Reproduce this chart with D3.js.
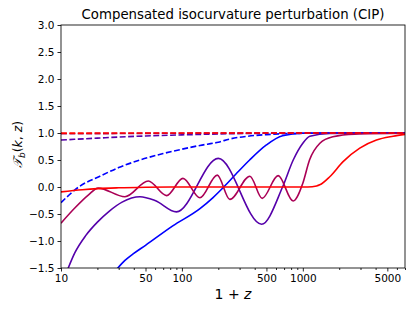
<!DOCTYPE html>
<html>
<head>
<meta charset="utf-8">
<script src="https://cdn.jsdelivr.net/npm/d3@7"></script>
<style>
  body { margin: 0; background: #fff; }
  text { font-family: "DejaVu Sans", sans-serif; fill: #000; }
</style>
</head>
<body>
<div id="chart"></div>
<script>
// Values: [1+z, T_b]
var solidBlue = [[28, -1.56], [33.8, -1.36], [40, -1.23], [50, -1.08], [84, -0.72], [141, -0.40],
  [180, -0.20], [222, 0.0], [280, 0.24], [363, 0.5], [500, 0.78], [680, 0.95], [1000, 0.995], [2000, 1.0], [7000, 1.0]];
var solidViolet = [[11.2, -1.56], [13, -1.22], [16, -0.9], [20, -0.65], [25, -0.45], [32, -0.28], [45, -0.18],
  [60, -0.25], [90, -0.46], [200, 0.53], [456, -0.69], [680, 0.0], [833, 0.5], [1000, 0.81], [1143, 0.94],
  [1670, 0.99], [7000, 1.0]];
var solidPurple = [[10, -0.67], [13, -0.39], [16.8, -0.15], [20.3, -0.02], [33.8, -0.18], [52.7, 0.11],
  [74.7, -0.16], [102, 0.16], [141, -0.20], [196, 0.22], [249, -0.23], [365, 0.20], [461, -0.21],
  [625, 0.21], [832, -0.26], [1000, 0.07], [1136, 0.5], [1384, 0.81], [1770, 0.93], [2680, 0.98], [7000, 0.995]];
var solidRed = [[10, -0.09], [15, -0.05], [20, -0.03], [30, -0.015], [50, -0.005], [100, 0.0], [1100, 0.0],
  [1300, 0.02], [1380, 0.04], [1670, 0.19], [2153, 0.47], [2958, 0.72], [4065, 0.87], [5575, 0.94], [7000, 0.975]];

var dashedBlue = [[10, -0.29], [14, 0.0], [21, 0.2], [30, 0.36], [45, 0.5], [70, 0.62], [100, 0.7], [141, 0.77],
  [200, 0.83], [250, 0.89], [350, 0.94], [500, 0.97], [1000, 0.995], [2000, 1.0], [7000, 1.0]];
var dashedViolet = [[10, 0.87], [20, 0.905], [30, 0.925], [50, 0.945], [100, 0.965], [200, 0.982], [500, 0.995],
  [1000, 1.0], [7000, 1.0]];
var dashedPurple = [[10, 0.985], [30, 0.99], [100, 0.996], [300, 1.0], [7000, 1.0]];
var dashedRed = [[10, 0.997], [50, 1.0], [7000, 1.0]];

var xTicks = [10, 50, 100, 500, 1000, 5000];
var yTicks = [-1.5, -1.0, -0.5, 0.0, 0.5, 1.0, 1.5, 2.0, 2.5, 3.0];

// colours go from blue to red in even steps
var colour = d3.interpolateRgb("#0000ff", "#ff0000");
var series = [
  {data: solidBlue, c: colour(0), dash: null},
  {data: dashedBlue, c: colour(0), dash: "5.9,2.5"},
  {data: solidViolet, c: colour(1 / 3), dash: null},
  {data: dashedViolet, c: colour(1 / 3), dash: "5.9,2.5"},
  {data: solidPurple, c: colour(2 / 3), dash: null},
  {data: dashedPurple, c: colour(2 / 3), dash: "5.9,2.5"},
  {data: solidRed, c: colour(1), dash: null},
  {data: dashedRed, c: colour(1), dash: "5.9,2.5"}
];

var margin = {top: 25, right: 10, bottom: 43, left: 61};
var width = 415 - margin.left - margin.right;
var height = 311 - margin.top - margin.bottom;

var svg = d3.select("div#chart").append("svg")
  .attr("width", 415)
  .attr("height", 311);

var g = svg.append("g")
  .attr("transform", "translate(" + margin.left + "," + margin.top + ")");

var x = d3.scaleLog().domain([10, 7000]).range([0, width]);
var y = d3.scaleLinear().domain([-1.5, 3.0]).range([height, 0]);

g.append("clipPath").attr("id", "clip")
  .append("rect").attr("width", width).attr("height", height);

var line = d3.line()
  .x(d => x(d[0]))
  .y(d => y(d[1]))
  .curve(d3.curveMonotoneX);

g.append("g").attr("clip-path", "url(#clip)")
  .selectAll("path")
  .data(series)
  .enter().append("path")
  .attr("d", d => line(d.data))
  .attr("fill", "none")
  .attr("stroke", d => d.c)
  .attr("stroke-width", 1.6)
  .attr("stroke-dasharray", d => d.dash);

// minor ticks on the log axis
var minor = [];
[10, 100, 1000].forEach(function (dec) {
  for (var m = 2; m <= 9; m++) {
    var v = m * dec;
    if (v <= 7000 && xTicks.indexOf(v) < 0) minor.push(v);
  }
});

var fmt = d => d3.format(".1f")(d).replace("-", "\u2212");

g.append("g")
  .attr("transform", "translate(0," + height + ")")
  .call(d3.axisBottom(x).tickValues(xTicks).tickFormat(d3.format("d")).tickSize(3.5).tickPadding(3));
g.append("g")
  .attr("transform", "translate(0," + height + ")")
  .call(d3.axisBottom(x).tickValues(minor).tickFormat("").tickSize(2));
g.append("g")
  .call(d3.axisLeft(y).tickValues(yTicks).tickFormat(fmt).tickSize(3.5).tickPadding(3));

g.selectAll(".domain").remove();
g.selectAll(".tick line").attr("stroke", "#000").attr("stroke-width", 0.85);
g.selectAll(".tick text").attr("font-size", 10.5).attr("font-family", "DejaVu Sans");

g.append("rect")
  .attr("width", width).attr("height", height)
  .attr("fill", "none").attr("stroke", "#000").attr("stroke-width", 0.85);

// title and axis labels
svg.append("text")
  .attr("x", margin.left + width / 2).attr("y", 19)
  .attr("text-anchor", "middle").attr("font-size", 13.3)
  .text("Compensated isocurvature perturbation (CIP)");

var xl = svg.append("text")
  .attr("x", margin.left + width / 2).attr("y", 299)
  .attr("text-anchor", "middle").attr("font-size", 14);
xl.append("tspan").text("1 + ");
xl.append("tspan").attr("font-style", "italic").text("z");

// y label runs upward from its bottom end
var yl = svg.append("text")
  .attr("transform", "translate(21.5,168) rotate(-90)")
  .attr("text-anchor", "start").attr("font-size", 12.5);
yl.append("tspan").attr("font-style", "italic").text("\uD835\uDCAF");
yl.append("tspan").attr("font-style", "italic").attr("font-size", 9).attr("dy", 3).text("b");
yl.append("tspan").attr("dy", -3).text("(");
yl.append("tspan").attr("font-style", "italic").text("k");
yl.append("tspan").text(", ");
yl.append("tspan").attr("font-style", "italic").text("z");
yl.append("tspan").text(")");
</script>
</body>
</html>
